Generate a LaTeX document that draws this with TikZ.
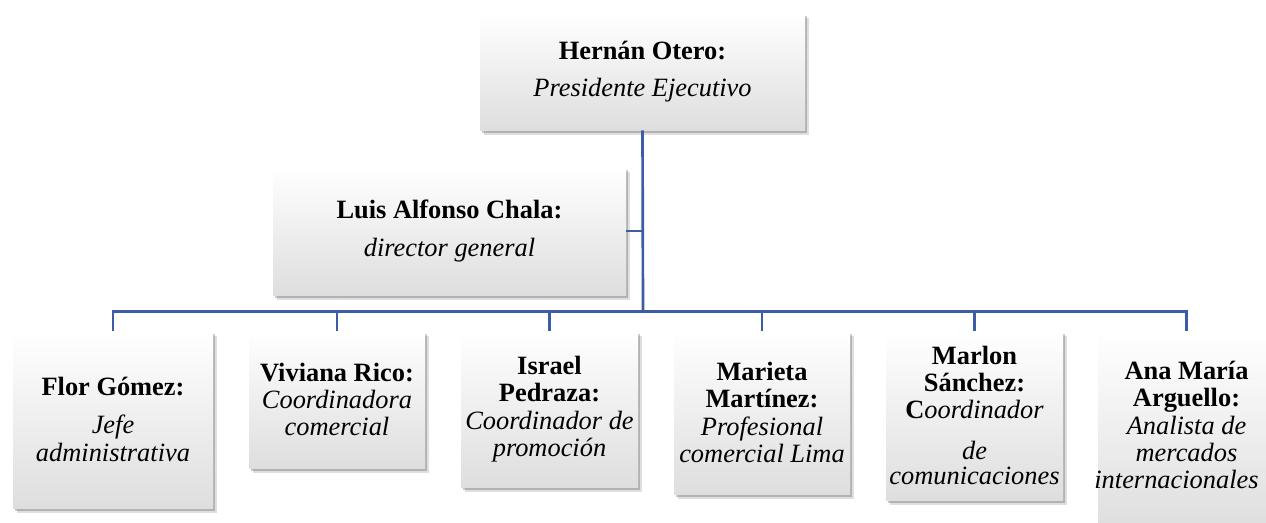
\documentclass[tikz,border=0pt]{standalone}
\usepackage{fontspec}
\setmainfont{Liberation Serif}
\usetikzlibrary{shadows}
\definecolor{linkblue}{HTML}{3C5DA5}
\tikzset{
  orgbox/.style={rectangle, top color=white, middle color=white, bottom color=black!13,
    drop shadow={shadow xshift=3pt, shadow yshift=-4pt, opacity=0.18, fill=black!70},
    drop shadow={shadow xshift=1.8pt, shadow yshift=-2.5pt, opacity=0.3, fill=black!70},
    align=center, inner sep=0pt, font=\fontsize{19.8}{20.5}\selectfont},
  conn/.style={draw=linkblue, line width=2pt}
}
\newcommand{\pxw}[1]{#1*0.75pt}
\begin{document}
\begin{tikzpicture}[x=0.75pt,y=-0.75pt]
\useasboundingbox (0,0) rectangle (1266,522);
\clip (0,0) rectangle (1266,522);
\coordinate (j) at (643,312);
% boxes
\node[orgbox, minimum width=\pxw{325}, minimum height=\pxw{117}] (top) at (642.5,71.5)
  {\textbf{Hernán Otero:}\\[7pt]\textit{Presidente Ejecutivo}};
\node[orgbox, minimum width=\pxw{353}, minimum height=\pxw{128}] (luis) at (449.5,231)
  {\textbf{Luis Alfonso Chala:}\\[7.5pt]\textit{director general}};
\node[orgbox, minimum width=\pxw{200}, minimum height=\pxw{177}] (flor) at (113,419.5)
  {\textbf{Flor Gómez:}\\[8pt]\textit{Jefe}\\\textit{administrativa}};
\node[orgbox, minimum width=\pxw{176}, minimum height=\pxw{137}] (viv) at (337,399.5)
  {\textbf{Viviana Rico:}\\\textit{Coordinadora}\\\textit{comercial}};
\node[orgbox, minimum width=\pxw{177}, minimum height=\pxw{156}] (isr) at (549.5,409)
  {\textbf{Israel}\\\textbf{Pedraza:}\\\textit{Coordinador de}\\\textit{promoción}};
\node[orgbox, minimum width=\pxw{176}, minimum height=\pxw{163}] (mar) at (762,412.5)
  {\textbf{Marieta}\\\textbf{Martínez:}\\\textit{Profesional}\\\textit{comercial Lima}};
\node[orgbox, minimum width=\pxw{177}, minimum height=\pxw{169}] (mlo) at (974.5,415.5)
  {\textbf{Marlon}\\\textbf{Sánchez:}\\\textbf{C}\textit{oordinador}\\[10pt]\textit{de}\\[-1.5pt]\textit{comunicaciones}};
\node[orgbox, minimum width=\pxw{177}, minimum height=\pxw{199}] (ana) at (1186.5,430.5)
  {\textbf{Ana María}\\\textbf{Arguello:}\\\textit{Analista de}\\\textit{mercados}\\\makebox[120pt][c]{\textit{internacionales}\kern15pt}\\[-12pt]\mbox{}};
% connectors
\draw[conn] (top.south) -- (j);
\draw[conn, line width=1.6pt] (luis.east) -- (luis.east -| j);
\draw[conn] (flor.north) -- ++(0,-19) -| (ana.north);
\draw[conn] (viv.north) -- (viv.north |- j);
\draw[conn] (isr.north) -- (isr.north |- j);
\draw[conn] (mar.north) -- (mar.north |- j);
\draw[conn] (mlo.north) -- (mlo.north |- j);
\end{tikzpicture}
\end{document}
